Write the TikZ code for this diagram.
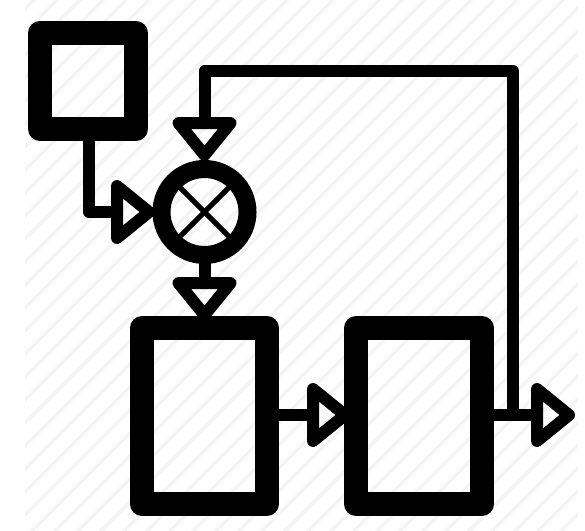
\documentclass[tikz,border=0pt]{standalone}
\definecolor{hatchgray}{HTML}{F4F4F4}
\tikzset{
  hatchline/.style={draw=hatchgray,line width=3.5pt},
  blockbox/.style={draw=black,line width=24pt,line join=round,rectangle,inner sep=0pt,outer sep=0pt},
  wire/.style={draw=black,line width=12pt,line join=round,line cap=butt},
  mixer/.style={draw=black,line width=18pt,circle,inner sep=0pt,outer sep=0pt,minimum size=86pt},
  crossline/.style={draw=black,line width=5pt},
  headline/.style={draw=black,line width=12pt,line join=round},
  pics/headright/.style={code={
    \coordinate (-base) at (0,0);
    \coordinate (-tip) at (32,0);
    \draw[headline] (0,-26) -- (32,0) -- (0,26) -- cycle;}},
  pics/headdown/.style={code={
    \coordinate (-base) at (0,0);
    \coordinate (-tip) at (0,32);
    \draw[headline] (-26,0) -- (0,32) -- (26,0) -- cycle;}}
}
\begin{document}
\begin{tikzpicture}[x=1pt,y=-1pt]
\useasboundingbox (0,0) rectangle (585,530);
\fill[white] (0,0) rectangle (585,530);
\begin{scope}
  \clip (25,0) rectangle (578,530);
  \foreach \k in {0,...,50} {
    \draw[hatchline] (\k*23+11+10,-10) -- (\k*23+11-600,600);
  }
\end{scope}
\node[blockbox,minimum width=125pt,minimum height=176pt] (blockA) at (204.5,416) {};
\node[blockbox,minimum width=126pt,minimum height=176pt] (blockB) at (419,416) {};
\node[blockbox,minimum width=96pt,minimum height=96pt] (src) at (88,81) {};
\node[mixer] (sum) at (204.5,212) {};
\draw[crossline] (sum.north west) -- (sum.south east);
\draw[crossline] (sum.north east) -- (sum.south west);
\pic (hIn) at (117,212) {headright};
\pic (hFb) at (204.5,123) {headdown};
\pic (hOut) at (204.5,283) {headdown};
\pic (hMid) at (313,415) {headright};
\pic (hEnd) at (537,415) {headright};
\coordinate (srcDrop) at (89,129);
\coordinate (fbCorner) at (513,71);
\coordinate (fbTap) at (513,415);
\coordinate (fbTop) at (204.5,71);
\draw[wire] (srcDrop) -- (89,212) -- (hIn-base);
\draw[wire] (sum.south) -- (hOut-base);
\draw[wire] (blockA.east |- hMid-base) -- (hMid-base);
\draw[wire] (blockB.east |- hEnd-base) -- (hEnd-base);
\draw[wire] (fbTap) -- (fbCorner) -- (fbTop) -- (hFb-base);
\end{tikzpicture}
\end{document}
